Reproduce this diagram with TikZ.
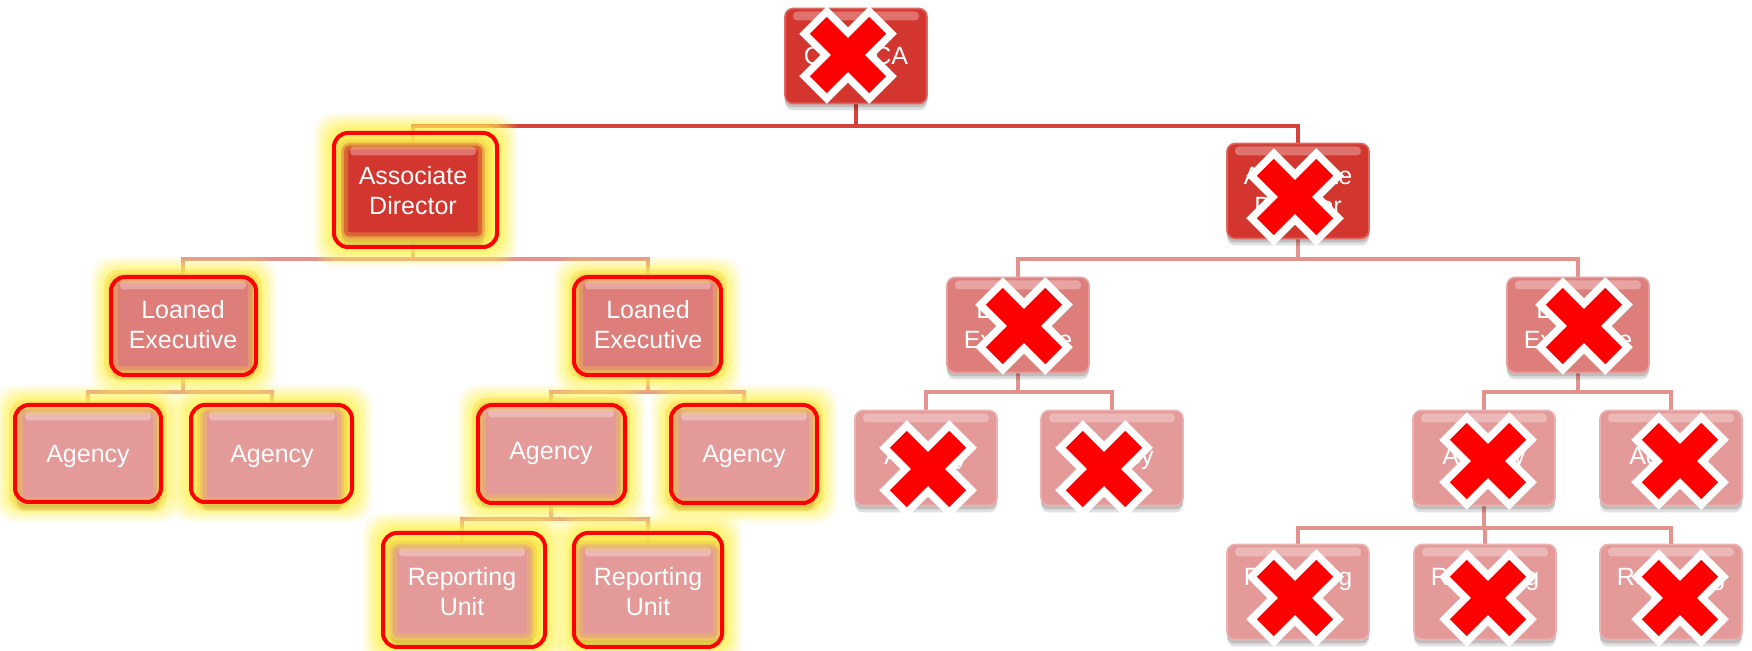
\documentclass[tikz,border=0pt]{standalone}
\usepackage{fontspec}
\setmainfont{Liberation Sans}
\usetikzlibrary{calc}
\pgfdeclarelayer{bg}\pgfdeclarelayer{glow}\pgfdeclarelayer{fg}
\pgfsetlayers{bg,glow,main,fg}

\definecolor{darkbox}{HTML}{D2362E}
\definecolor{midbox}{HTML}{DE7E7B}
\definecolor{lightbox}{HTML}{E39A98}
\definecolor{redline}{HTML}{D6423B}
\definecolor{pinkline}{HTML}{E3928E}
\definecolor{glowc}{HTML}{FFF550}
\definecolor{goldc}{HTML}{F0D040}
\definecolor{xred}{HTML}{FF0000}

\tikzset{
  orgbox/.style={rectangle, rounded corners=4pt, minimum width=71pt, minimum height=47.5pt,
    inner sep=0pt, align=center, text=white, font=\fontsize{12.5}{15}\selectfont,
    preaction={fill=black, opacity=0.12, transform canvas={yshift=-3.5pt}},
    preaction={fill=black, opacity=0.15, transform canvas={yshift=-2pt}},
    fill=#1, draw=#1!75!white, line width=0.8pt,
    path picture={\fill[white,opacity=0.3,rounded corners=2pt]
      ([xshift=4pt,yshift=-1.5pt]path picture bounding box.north west) rectangle
      ([xshift=-4pt,yshift=-6pt]path picture bounding box.north east);}},
  conn/.style={line width=1.8pt, draw=pinkline},
  topconn/.style={line width=1.8pt, draw=redline},
  hlline/.style={draw=xred, line width=2pt, rounded corners=7pt},
  xmark/.pic={
    \draw[white, line width=19.5pt] (-35,-35) -- (35,35);
    \draw[white, line width=19.5pt] (-35,35) -- (35,-35);
    \draw[xred, line width=12pt] (-29.7,-29.7) -- (29.7,29.7);
    \draw[xred, line width=12pt] (-29.7,29.7) -- (29.7,-29.7);
  }
}

\newcommand\hlbox[5]{%
  \begin{pgfonlayer}{glow}
    \foreach \e/\op in {20/0.12,17/0.16,14/0.2,11/0.25,8/0.3,5/0.35,2/0.4}{
      \fill[glowc, opacity=\op, rounded corners=10pt]
        ($(#1)+(#2-#4-\e,#3-#5-\e)$) rectangle ($(#1)+(#2+#4+\e,#3+#5+\e)$);}
  \end{pgfonlayer}
  \begin{pgfonlayer}{fg}
    \draw[goldc, opacity=0.3, line width=7pt, rounded corners=4pt] (#1.north west) rectangle (#1.south east);
    \draw[goldc, opacity=0.5, line width=3pt, rounded corners=4pt] (#1.north west) rectangle (#1.south east);
    \draw[hlline] ($(#1)+(#2-#4,#3-#5)$) rectangle ($(#1)+(#2+#4,#3+#5)$);
  \end{pgfonlayer}}

\begin{document}
\begin{tikzpicture}[x=0.5pt,y=-0.5pt]
\begin{pgfonlayer}{bg}
\fill[white] (0,0) rectangle (1752,651);
\end{pgfonlayer}
\useasboundingbox (0,0) rectangle (1752,651);

% nodes
\node[orgbox=darkbox] (top) at (856,56) {CFCNCA};
\node[orgbox=darkbox] (adL) at (413,191) {Associate\\Director};
\node[orgbox=darkbox] (adR) at (1298,191) {Associate\\Director};
\node[orgbox=midbox] (le1) at (183,325) {Loaned\\Executive};
\node[orgbox=midbox] (le2) at (648,325) {Loaned\\Executive};
\node[orgbox=midbox] (le3) at (1018,325) {Loaned\\Executive};
\node[orgbox=midbox] (le4) at (1578,325) {Loaned\\Executive};
\node[orgbox=lightbox] (a1) at (88,456) {Agency};
\node[orgbox=lightbox] (a2) at (272,456) {Agency};
\node[orgbox=lightbox] (a3) at (551,453) {Agency};
\node[orgbox=lightbox] (a4) at (744,456) {Agency};
\node[orgbox=lightbox] (a5) at (926,458) {Agency};
\node[orgbox=lightbox] (a6) at (1112,458) {Agency};
\node[orgbox=lightbox] (a7) at (1484,458) {Agency};
\node[orgbox=lightbox] (a8) at (1671,458) {Agency};
\node[orgbox=lightbox] (ru1) at (462,592) {Reporting\\Unit};
\node[orgbox=lightbox] (ru2) at (648,592) {Reporting\\Unit};
\node[orgbox=lightbox] (ru3) at (1298,592) {Reporting\\Unit};
\node[orgbox=lightbox] (ru4) at (1485,592) {Reporting\\Unit};
\node[orgbox=lightbox] (ru5) at (1671,592) {Reporting\\Unit};

% connectors
\begin{pgfonlayer}{bg}
\draw[topconn] (top.south) -- ++(0,22) -| (adL.north);
\draw[topconn] (top.south) -- ++(0,22) -| (adR.north);
\foreach \p/\c in {adL/le1,adL/le2,adR/le3,adR/le4}
  \draw[conn] (\p.south) -- ++(0,20) -| (\c.north);
\foreach \p/\c in {le1/a1,le1/a2,le2/a3,le2/a4,le3/a5,le3/a6,le4/a7,le4/a8}
  \draw[conn] (\p.south) -- ++(0,19) -| (\c.north);
\foreach \c in {ru1,ru2}
  \draw[conn] (a3.south) -- ++(0,17.5) -| (\c.north);
\foreach \c in {ru3,ru4,ru5}
  \draw[conn] (a7.south) -- ++(0,21.5) -| (\c.north);
\end{pgfonlayer}

% highlights
\hlbox{adL}{2.5}{-1}{81.5}{57}
\hlbox{le1}{0.5}{1}{72.5}{49}
\hlbox{le2}{-0.5}{1}{73.5}{49}
\hlbox{a1}{0}{-2.5}{73}{48.5}
\hlbox{a2}{-0.5}{-2.5}{80.5}{48.5}
\hlbox{a3}{0.5}{1}{73.5}{49}
\hlbox{a4}{0}{-2}{73}{49}
\hlbox{ru1}{2}{-2}{81}{57}
\hlbox{ru2}{0}{-2}{74}{57}

% cross marks
\begin{pgfonlayer}{fg}
\pic at ($(top)+(-8,-1)$) {xmark};
\pic at ($(adR)+(-3,6)$) {xmark};
\pic at ($(le3)+(6,1)$) {xmark};
\pic at ($(le4)+(6,1)$) {xmark};
\pic at ($(a5)+(2,11)$) {xmark};
\pic at ($(a6)+(-8,11)$) {xmark};
\pic at ($(a7)+(4,3)$) {xmark};
\pic at ($(a8)+(9,3)$) {xmark};
\pic at ($(ru3)+(-3,6)$) {xmark};
\pic at ($(ru4)+(3,6)$) {xmark};
\pic at ($(ru5)+(9,6)$) {xmark};
\end{pgfonlayer}
\end{tikzpicture}
\end{document}
